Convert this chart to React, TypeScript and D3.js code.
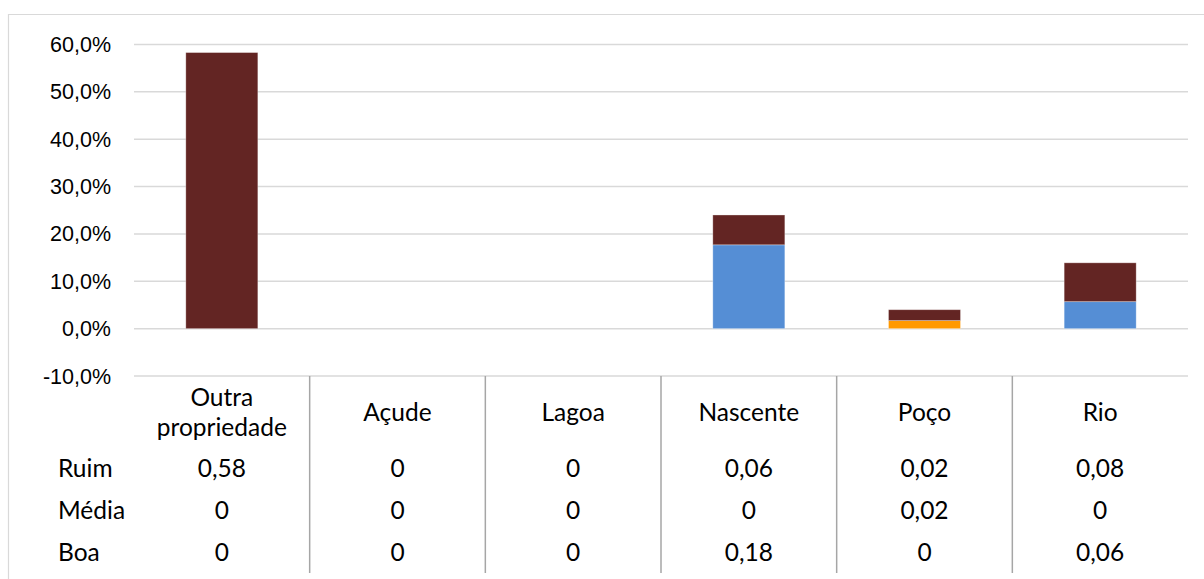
import React from "react";
import * as d3 from "d3";

const categories = ["Outra propriedade", "Açude", "Lagoa", "Nascente", "Poço", "Rio"];
const categoryLines = [["Outra", "propriedade"], ["Açude"], ["Lagoa"], ["Nascente"], ["Poço"], ["Rio"]];
const seriesNames = ["Boa", "Média", "Ruim"];
const boa = [0, 0, 0, 0.177, 0, 0.057];
const media = [0, 0, 0, 0, 0.017, 0];
const ruim = [0.583, 0, 0, 0.063, 0.023, 0.082];
const yTicks = [-0.1, 0, 0.1, 0.2, 0.3, 0.4, 0.5, 0.6];
const tableRows = ["Ruim", "Média", "Boa"];

const colors: Record<string, string> = { Boa: "#558ED5", "Média": "#FF9900", Ruim: "#632523" };

const W = 1204, H = 579;
const plotL = 134, plotR = 1188, plotT = 44.5, plotB = 376;

const locale = d3.formatLocale({ decimal: ",", thousands: ".", grouping: [3], currency: ["R$", ""], minus: "-" });
const pct = locale.format(".1%");
const num = (v: number) => (v === 0 ? "0" : locale.format(".2f")(v));

export default function App() {
  const y = d3.scaleLinear().domain([-0.1, 0.6]).range([plotB, plotT]);
  const x = d3.scaleBand<string>().domain(categories).range([plotL, plotR]).paddingInner(0).paddingOuter(0);
  const barW = x.bandwidth() * 0.41;

  const rows = categories.map((c, i) => ({ cat: c, Boa: boa[i], "Média": media[i], Ruim: ruim[i] }));
  const stack = d3.stack<any>().keys(seriesNames);
  const stacked = stack(rows);

  const values: Record<string, number[]> = { Ruim: ruim, "Média": media, Boa: boa };
  const rowY: Record<string, number> = { Ruim: 468, "Média": 510, Boa: 552 };
  const tableFont = "Lato, 'Open Sans', sans-serif";
  const fs = 24.5;

  return (
    <div style={{ position: "absolute", left: 0, top: 0 }}>
      <svg width={W} height={H} style={{ display: "block" }}>
        <rect x={0} y={0} width={W} height={H} fill="#fff" />
        <path d={`M${W + 2},14.5 H8.5 V${H + 2}`} fill="none" stroke="#d9d9d9" strokeWidth={1.2} />
        {yTicks.map((t) => (
          <g key={t}>
            <line x1={plotL} x2={plotR} y1={y(t)} y2={y(t)} stroke="#d9d9d9" strokeWidth={1.5} />
            <text x={111} y={y(t)} dy="0.35em" textAnchor="end" fontFamily="'Liberation Sans', Arial, sans-serif" fontSize={21.5} fill="#000">
              {pct(t)}
            </text>
          </g>
        ))}
        {stacked.map((s) => (
          <g key={s.key} fill={colors[s.key]}>
            {s.map((d, i) =>
              d[1] - d[0] > 0 ? (
                <rect
                  key={i}
                  x={(x(categories[i]) as number) + (x.bandwidth() - barW) / 2}
                  y={y(d[1])}
                  width={barW}
                  height={y(d[0]) - y(d[1])}
                  stroke="#ffffff"
                  strokeOpacity={0.4}
                  strokeWidth={0.8}
                />
              ) : null
            )}
          </g>
        ))}
        {categories.slice(1).map((c) => (
          <line key={c} x1={x(c)} x2={x(c)} y1={plotB} y2={573} stroke="#a6a6a6" strokeWidth={1.5} />
        ))}
        {categories.map((c, i) => {
          const cx = (x(c) as number) + x.bandwidth() / 2;
          const lines = categoryLines[i];
          const startY = 412 - ((lines.length - 1) * 30) / 2;
          return (
            <text key={c} textAnchor="middle" fontFamily={tableFont} fontSize={fs} fill="#000">
              {lines.map((l, j) => (
                <tspan key={j} x={cx} y={startY + j * 30} dy="0.35em">
                  {l}
                </tspan>
              ))}
            </text>
          );
        })}
        {tableRows.map((r) => (
          <g key={r}>
            <text x={58} y={rowY[r]} dy="0.35em" fontFamily={tableFont} fontSize={fs} fill="#000">
              {r}
            </text>
            {categories.map((c, i) => (
              <text
                key={c}
                x={(x(c) as number) + x.bandwidth() / 2}
                y={rowY[r]}
                dy="0.35em"
                textAnchor="middle"
                fontFamily={tableFont}
                fontSize={fs}
                fill="#000"
              >
                {num(values[r][i])}
              </text>
            ))}
          </g>
        ))}
      </svg>
    </div>
  );
}
